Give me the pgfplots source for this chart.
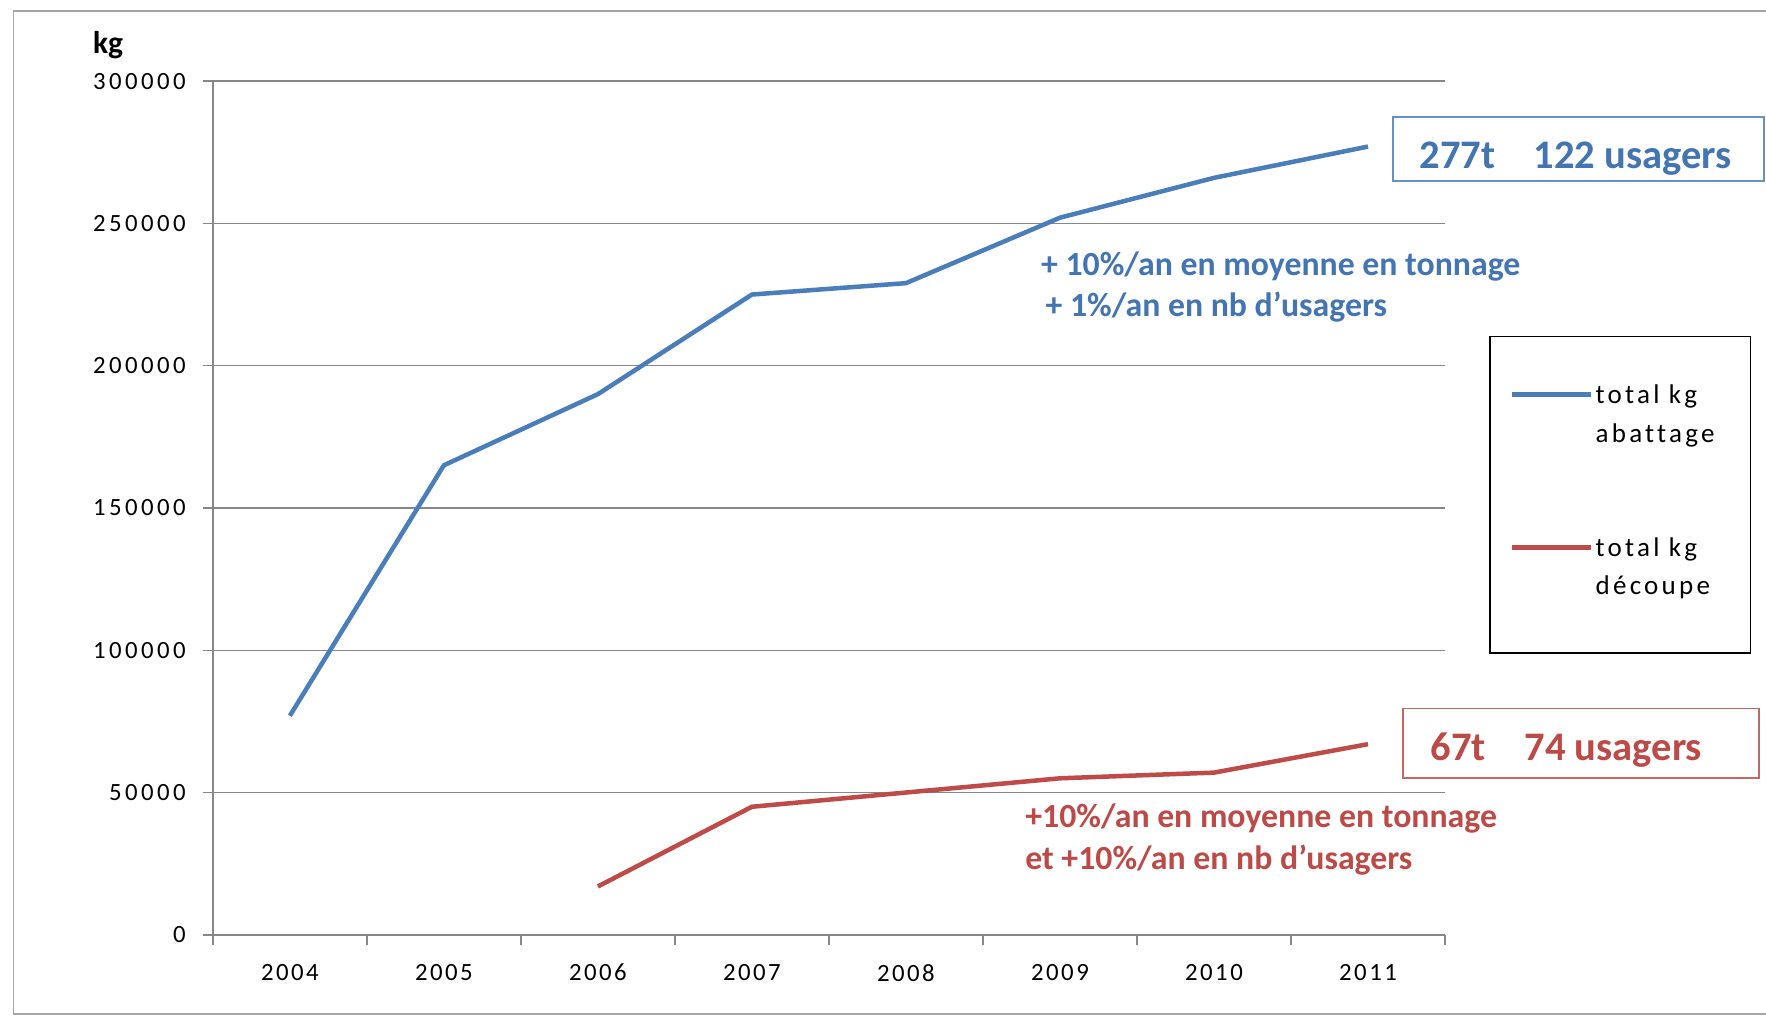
\documentclass[border=0pt]{standalone}
\usepackage{pgfplots}
\pgfplotsset{compat=1.18}
\usepackage{fontspec}
\setmainfont{Carlito}
\newfontfamily\tickfont{Carlito}[LetterSpace=10]
\newfontfamily\ytickfont{Carlito}[LetterSpace=14]
\newfontfamily\legfont{Carlito}[LetterSpace=12, Ligatures=NoCommon]
\definecolor{cblue}{HTML}{4A7EBB}
\definecolor{cred}{HTML}{BE4B48}
\definecolor{tblue}{HTML}{4375B3}
\definecolor{tred}{HTML}{BC4A47}
\definecolor{gridgray}{HTML}{878787}
\pgfplotsset{
  uplegend/.style={legend image code/.code={\draw[##1] (0pt,10.5pt) -- (35pt,10.5pt);}},
}

\begin{document}
\begin{tikzpicture}
\path[use as bounding box] (0,0) rectangle (784pt,-452.5pt);
\begin{scope}[x=0.5pt,y=-0.5pt]
\draw[gray!70, line width=0.8pt] (12,10) rectangle (1600,900);
\end{scope}
\begin{axis}[
  at={(94.5pt,-415pt)}, anchor=south west,
  scale only axis, width=547pt, height=379pt,
  xmin=-0.5, xmax=7.5, ymin=0, ymax=300000,
  axis x line*=bottom, axis y line*=left,
  axis line style={gridgray, line width=0.7pt},
  xtick={-0.5,0.5,...,7.5},
  xticklabels={2004,2005,2006,2007,2008,2009,2010,2011},
  x tick label as interval,
  ytick={0,50000,100000,150000,200000,250000,300000},
  yticklabels={0,50000,100000,150000,200000,250000,300000},
  scaled y ticks=false,
  ymajorgrids, grid style={gridgray, line width=0.6pt},
  tick align=outside, major tick length=4.5pt,
  tick style={gridgray, line width=0.6pt},
  xticklabel style={yshift=-5pt, font=\tickfont\fontsize{11}{13}\selectfont},
  yticklabel style={xshift=-4pt, font=\ytickfont\fontsize{11}{13}\selectfont},
  legend style={at={(axis description cs:1.0356,0.7018)}, anchor=north west,
    draw=black, line width=0.8pt, font=\legfont\fontsize{12}{14}\selectfont,
    inner xsep=9pt, inner ysep=19pt, row sep=54.5pt,
    nodes={inner sep=1pt}},
  legend cell align=left,
  legend image code/.code={\draw[#1] (0pt,0pt) -- (35pt,0pt);},
]
\addplot[cblue, line width=2pt] coordinates {
(0,77000) (1,165000) (2,190000) (3,225000) (4,229000) (5,252000) (6,266000) (7,277000)
};
\addlegendentry{\begin{tabular}[t]{@{}l@{\hspace{6pt}}}total kg\\[3pt]abattage\end{tabular}}
\addplot[cred, line width=2pt, uplegend] coordinates {
(2,17000) (3,45000) (4,50000) (5,55000) (6,57000) (7,67000)
};
\addlegendentry[text depth=23pt]{\begin{tabular}[t]{@{}l@{\hspace{6pt}}}total kg\\[3pt]d\'ecoupe\end{tabular}}
\end{axis}
\begin{scope}[x=0.5pt,y=-0.5pt]
\node[font=\bfseries\fontsize{14}{16}\selectfont] at (96,40) {kg};
\node[anchor=base west, tblue, font=\bfseries\fontsize{15}{17}\selectfont, inner sep=0pt] at (924,245) {+ 10\%/an en moyenne en tonnage};
\node[anchor=base west, tblue, font=\bfseries\fontsize{15}{17}\selectfont, inner sep=0pt] at (928,281) {+ 1\%/an en nb d'usagers};
\node[anchor=base west, tred, font=\bfseries\fontsize{15}{17}\selectfont, inner sep=0pt] at (910,735) {+10\%/an en moyenne en tonnage};
\node[anchor=base west, tred, font=\bfseries\fontsize{15}{17}\selectfont, inner sep=0pt] at (910,772) {et +10\%/an en nb d'usagers};
\draw[cblue!85, line width=0.8pt, fill=white] (1237,104) rectangle (1566,161);
\node[anchor=base west, tblue, font=\bfseries\fontsize{18}{20}\selectfont, inner sep=0pt] at (1260,150) {277t\hspace{0.95em}122 usagers};
\draw[cred!85, line width=0.8pt, fill=white] (1246,629) rectangle (1562,691);
\node[anchor=base west, tred, font=\bfseries\fontsize{18}{20}\selectfont, inner sep=0pt] at (1270,675) {67t\hspace{0.95em}74 usagers};
\end{scope}
\end{tikzpicture}
\end{document}
